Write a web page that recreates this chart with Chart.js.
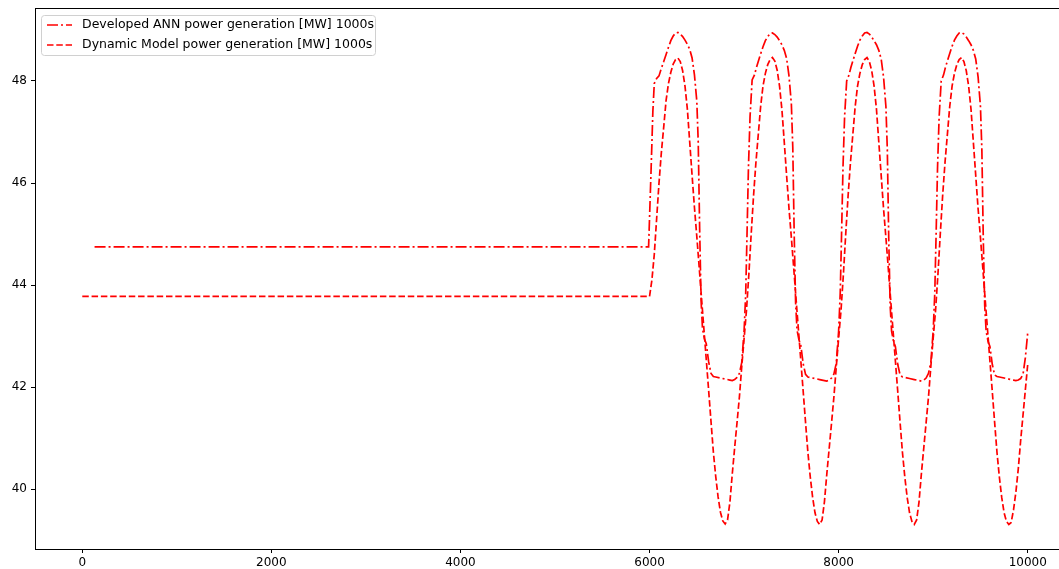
<!DOCTYPE html>
<html>
<head>
<meta charset="utf-8">
<script src="https://cdn.jsdelivr.net/npm/chart.js@4"></script>
<style>
  html, body { margin: 0; padding: 0; background: #fff; overflow: hidden; }
  #wrap { width: 1075px; height: 569px; }
</style>
</head>
<body>
<div id="wrap"><canvas id="powerChart" width="1075" height="569"></canvas></div>
<script>
// time [s] and power [MW] for both models
const annTime = [130, 5990, 6017, 6035, 6050, 6075, 6100, 6125, 6150, 6175, 6200, 6225, 6250, 6275, 6300, 6325, 6350, 6375, 6400, 6425, 6450, 6475, 6500, 6515, 6530, 6545, 6560, 6580, 6600, 6625, 6650, 6675, 6700, 6750, 6800, 6850, 6875, 6900, 6925, 6950, 6975,
  7000, 7017, 7031, 7046, 7063, 7085, 7110, 7130, 7150, 7175, 7200, 7225, 7250, 7275, 7300, 7325, 7350, 7375, 7400, 7425, 7450, 7475, 7500, 7515, 7530, 7545, 7560, 7580, 7600, 7625, 7650, 7675, 7700, 7750, 7800, 7850, 7875, 7900, 7925, 7950, 7975,
  8000, 8017, 8031, 8046, 8063, 8085, 8110, 8130, 8150, 8175, 8200, 8225, 8250, 8275, 8300, 8325, 8350, 8375, 8400, 8425, 8450, 8475, 8500, 8515, 8530, 8545, 8560, 8580, 8600, 8625, 8650, 8675, 8700, 8750, 8800, 8850, 8875, 8900, 8925, 8950, 8975,
  9000, 9017, 9031, 9046, 9063, 9085, 9110, 9130, 9150, 9175, 9200, 9225, 9250, 9275, 9300, 9325, 9350, 9375, 9400, 9425, 9450, 9475, 9500, 9515, 9530, 9545, 9560, 9580, 9600, 9625, 9650, 9675, 9700, 9750, 9800, 9850, 9875, 9900, 9925, 9950, 9975, 10000];
const annPower = [44.75, 44.75, 46.3, 47.4, 47.95, 48.05, 48.1, 48.25, 48.38, 48.52, 48.66, 48.79, 48.88, 48.94, 48.95, 48.92, 48.87, 48.8, 48.72, 48.62, 48.45, 48.12, 47.6, 46.8, 45.1, 43.7, 43.15, 42.95, 42.85, 42.5, 42.27, 42.21, 42.2, 42.18, 42.16, 42.14, 42.13, 42.15, 42.19, 42.27, 42.48,
  43.1, 43.83, 45.0, 46.3, 47.3, 48.02, 48.12, 48.26, 48.38, 48.53, 48.67, 48.79, 48.87, 48.93, 48.94, 48.91, 48.86, 48.79, 48.71, 48.6, 48.44, 48.1, 47.55, 46.7, 45.0, 43.65, 43.12, 42.93, 42.82, 42.46, 42.25, 42.2, 42.19, 42.17, 42.15, 42.13, 42.12, 42.14, 42.18, 42.26, 42.47,
  43.1, 43.85, 45.0, 46.3, 47.3, 48.0, 48.12, 48.27, 48.39, 48.54, 48.68, 48.8, 48.88, 48.94, 48.95, 48.92, 48.86, 48.79, 48.71, 48.6, 48.43, 48.08, 47.5, 46.65, 44.9, 43.6, 43.1, 42.9, 42.8, 42.45, 42.24, 42.2, 42.19, 42.17, 42.15, 42.13, 42.12, 42.14, 42.18, 42.27, 42.48,
  43.1, 43.85, 45.0, 46.3, 47.3, 48.0, 48.12, 48.27, 48.39, 48.54, 48.68, 48.8, 48.88, 48.94, 48.95, 48.92, 48.86, 48.79, 48.71, 48.6, 48.43, 48.08, 47.5, 46.65, 44.9, 43.6, 43.1, 42.9, 42.8, 42.45, 42.24, 42.21, 42.2, 42.18, 42.16, 42.14, 42.13, 42.14, 42.17, 42.25, 42.58, 43.07];

const dynTime = [0, 6000, 6025, 6050, 6075, 6100, 6125, 6150, 6175, 6200, 6225, 6250, 6275, 6300, 6325, 6350, 6375, 6400, 6425, 6450, 6475, 6500, 6525, 6550, 6575, 6600, 6625, 6650, 6675, 6700, 6725, 6750, 6775, 6800, 6825, 6850, 6875, 6900, 6925, 6950, 6975,
  7000, 7025, 7050, 7075, 7100, 7125, 7150, 7175, 7200, 7225, 7250, 7275, 7300, 7325, 7350, 7375, 7400, 7425, 7450, 7475, 7500, 7525, 7550, 7575, 7600, 7625, 7650, 7675, 7700, 7725, 7750, 7775, 7800, 7825, 7850, 7875, 7900, 7925, 7950, 7975,
  8000, 8025, 8050, 8075, 8100, 8125, 8150, 8175, 8200, 8225, 8250, 8275, 8300, 8325, 8350, 8375, 8400, 8425, 8450, 8475, 8500, 8525, 8550, 8575, 8600, 8625, 8650, 8675, 8700, 8725, 8750, 8775, 8800, 8825, 8850, 8875, 8900, 8925, 8950, 8975,
  9000, 9025, 9050, 9075, 9100, 9125, 9150, 9175, 9200, 9225, 9250, 9275, 9300, 9325, 9350, 9375, 9400, 9425, 9450, 9475, 9500, 9525, 9550, 9575, 9600, 9625, 9650, 9675, 9700, 9725, 9750, 9775, 9800, 9825, 9850, 9875, 9900, 9925, 9950, 9975, 10000];
const dynPower = [43.78, 43.78, 44.1, 44.6, 45.3, 46.0, 46.6, 47.1, 47.62, 47.95, 48.17, 48.33, 48.42, 48.45, 48.38, 48.2, 47.9, 47.45, 46.8, 46.15, 45.52, 44.95, 44.35, 43.74, 43.14, 42.54, 41.94, 41.33, 40.73, 40.25, 39.85, 39.55, 39.38, 39.32, 39.4, 39.75, 40.3, 40.81, 41.3, 41.8, 42.4,
  42.95, 43.5, 44.2, 45.0, 45.75, 46.4, 46.95, 47.5, 47.9, 48.15, 48.32, 48.42, 48.46, 48.39, 48.21, 47.9, 47.44, 46.8, 46.14, 45.5, 44.93, 44.33, 43.72, 43.12, 42.52, 41.92, 41.31, 40.72, 40.24, 39.84, 39.54, 39.37, 39.31, 39.4, 39.76, 40.3, 40.8, 41.3, 41.81, 42.4,
  42.96, 43.5, 44.2, 45.0, 45.75, 46.4, 46.95, 47.5, 47.9, 48.15, 48.32, 48.42, 48.46, 48.38, 48.2, 47.9, 47.45, 46.8, 46.15, 45.5, 44.93, 44.33, 43.72, 43.12, 42.52, 41.92, 41.31, 40.72, 40.24, 39.84, 39.54, 39.37, 39.31, 39.4, 39.75, 40.3, 40.8, 41.3, 41.8, 42.4,
  42.96, 43.5, 44.2, 45.0, 45.75, 46.4, 46.95, 47.5, 47.9, 48.15, 48.32, 48.42, 48.46, 48.38, 48.2, 47.9, 47.45, 46.8, 46.15, 45.5, 44.93, 44.33, 43.72, 43.12, 42.52, 41.92, 41.31, 40.72, 40.24, 39.84, 39.54, 39.37, 39.31, 39.35, 39.6, 39.95, 40.4, 40.95, 41.45, 41.95, 42.45];

const seriesNames = ['Developed ANN power generation [MW] 1000s', 'Dynamic Model power generation [MW] 1000s'];
const xTicks = [0, 2000, 4000, 6000, 8000, 10000];
const yTicks = [40, 42, 44, 46, 48];

const toPoints = (xs, ys) => xs.map((x, i) => ({x: x, y: ys[i]}));

Chart.defaults.font.family = 'DejaVu Sans';
Chart.defaults.color = '#000';

// box around the axes, like matplotlib spines
const frame = {
    id: 'frame',
    afterDatasetsDraw(chart) {
        const {ctx, chartArea: a} = chart;
        ctx.save();
        ctx.strokeStyle = '#000';
        ctx.lineWidth = 1;
        ctx.strokeRect(Math.round(a.left) + 0.5, Math.round(a.top) + 0.5, Math.round(a.right - a.left), Math.round(a.bottom - a.top));
        ctx.restore();
    }
};

// legend drawn inside the plot, top left
const innerLegend = {
    id: 'innerLegend',
    afterDraw(chart) {
        const {ctx} = chart;
        const x0 = 41.5, y0 = 15.5, w = 334, h = 40;
        ctx.save();
        ctx.beginPath();
        ctx.roundRect(x0, y0, w, h, 3);
        ctx.fillStyle = 'rgba(255,255,255,0.8)';
        ctx.fill();
        ctx.strokeStyle = '#d0d0d0';
        ctx.lineWidth = 1;
        ctx.stroke();
        ctx.font = '12.5px "DejaVu Sans"';
        ctx.textBaseline = 'middle';
        chart.data.datasets.forEach((ds, i) => {
            const y = 25 + i * 20;
            ctx.beginPath();
            ctx.setLineDash(ds.borderDash);
            ctx.strokeStyle = ds.borderColor;
            ctx.lineWidth = ds.borderWidth;
            ctx.moveTo(47, y);
            ctx.lineTo(72, y);
            ctx.stroke();
            ctx.setLineDash([]);
            ctx.fillStyle = '#000';
            ctx.fillText(ds.label, 82, y);
        });
        ctx.restore();
    }
};

const ctx = document.getElementById('powerChart');
const powerChart = new Chart(ctx, {
    type: 'line',
    data: {
        datasets: [{
            label: seriesNames[0],
            data: toPoints(annTime, annPower),
            borderColor: '#ff0000',
            borderWidth: 1.7,
            borderDash: [11, 3, 2, 3],
            pointRadius: 0,
            fill: false,
            tension: 0
        }, {
            label: seriesNames[1],
            data: toPoints(dynTime, dynPower),
            borderColor: '#ff0000',
            borderWidth: 1.7,
            borderDash: [6.5, 2.8],
            pointRadius: 0,
            fill: false,
            tension: 0
        }]
    },
    options: {
        responsive: false,
        animation: false,
        layout: { padding: { top: 8, left: 0, right: 0, bottom: 0 } },
        plugins: { legend: { display: false }, tooltip: { enabled: false } },
        scales: {
            x: {
                type: 'linear',
                min: -500,
                max: 10500,
                afterFit: (scale) => { scale.height = 20; scale.paddingLeft = 0; scale.paddingRight = 0; },
                afterBuildTicks: (scale) => { scale.ticks = xTicks.map(v => ({value: v})); },
                grid: { display: true, drawOnChartArea: false, drawTicks: true, tickLength: 4, tickColor: '#000' },
                border: { display: true, color: '#000' },
                ticks: { autoSkip: false, padding: 3, maxRotation: 0, font: { size: 12 }, color: '#000', callback: (v) => String(v) }
            },
            y: {
                min: 38.83,
                max: 49.43,
                afterFit: (scale) => { scale.width = 35; scale.paddingTop = 0; scale.paddingBottom = 0; },
                afterBuildTicks: (scale) => { scale.ticks = yTicks.map(v => ({value: v})); },
                grid: { display: true, drawOnChartArea: false, drawTicks: true, tickLength: 4, tickColor: '#000' },
                border: { display: true, color: '#000' },
                ticks: { autoSkip: false, padding: 4, font: { size: 12 }, color: '#000', callback: (v) => String(v) }
            }
        }
    },
    plugins: [frame, innerLegend]
});
</script>
</body>
</html>
